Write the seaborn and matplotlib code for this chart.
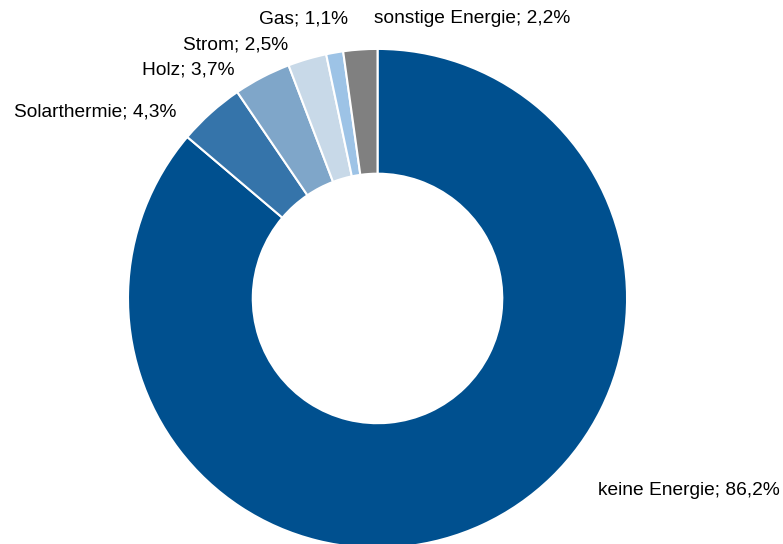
import matplotlib
matplotlib.use("Agg")
import matplotlib.pyplot as plt
import seaborn as sns

sns.set_theme(style="white")
plt.rcParams['font.family'] = ['Liberation Sans', 'DejaVu Sans']

categories = ["keine Energie", "Solarthermie", "Holz", "Strom", "Gas", "sonstige Energie"]
values = [86.2, 4.3, 3.7, 2.5, 1.1, 2.2]
colors = ["#00508F", "#3574AA", "#7FA6C9", "#C8D9E8", "#9DC3E6", "#808080"]
label_texts = [f"{c}; {str(v).replace('.', ',')}%" for c, v in zip(categories, values)]
# label anchor positions (layout, in units of outer radius)
label_pos = [(0.884, -0.768, "left"), (-0.808, 0.747, "right"), (-0.575, 0.916, "right"),
             (-0.359, 1.016, "right"), (-0.118, 1.120, "right"), (-0.014, 1.120, "left")]

fig = plt.figure(figsize=(7.83, 5.44), dpi=100)
ax = fig.add_axes([0, 0, 1, 1])
ax.pie(values, colors=colors, startangle=90, counterclock=False,
       radius=1.0, wedgeprops=dict(width=0.5, edgecolor="white", linewidth=1.5))
for txt, (x, y, ha) in zip(label_texts, label_pos):
    ax.text(x, y, txt, ha=ha, va="center", fontsize=13.75, color="#000000")
ax.set_xlim(-1.513, 1.625)
ax.set_ylim(-0.984, 1.196)
ax.set_aspect("equal")
ax.axis("off")
fig.savefig("out.png", dpi=100)
